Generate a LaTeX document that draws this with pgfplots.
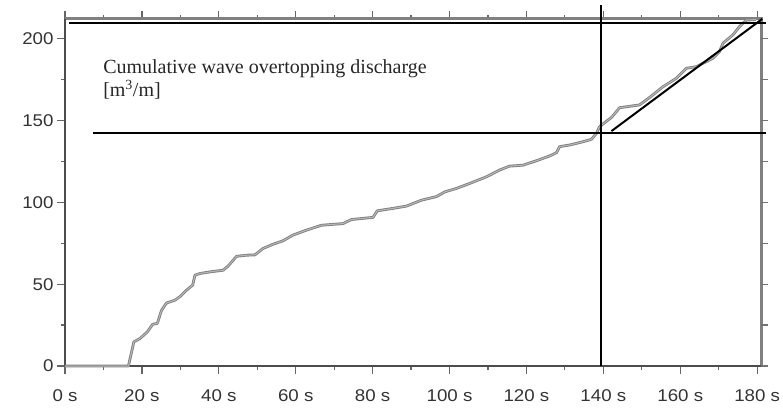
\documentclass[border=0pt]{standalone}
\usepackage{pgfplots}
\pgfplotsset{compat=1.18}
\usepackage{pgfplotstable}
\usepackage{fontspec}
\setmainfont{Liberation Sans}[FakeStretch=1.1]
\newfontfamily\serifann{Liberation Serif}

\pgfplotstableread{
t v
0 0
16.5 0
17.9 14.7
19.5 16.8
21.4 20.8
22.8 25.5
24 26
25.1 34
26.4 38.5
28.6 40.2
30 42.6
31.6 46.3
33.2 49.4
33.8 55.5
35.1 56.5
37.7 57.5
41.1 58.5
42.4 61
44.6 67
47.2 67.7
49.4 67.9
51.5 71.8
54.1 74.4
56.7 76.5
59.3 80
62.8 83
66.7 86
72.3 87
74.5 89.5
80.1 90.8
81.2 94.8
85.3 96.3
88.8 97.7
92.7 101.3
96.6 103.5
98.8 106.4
101.8 108.5
105.2 111.5
109.6 115.6
113 119.7
115.6 122.1
119.1 122.7
122.6 125.4
126 128.3
127.8 130.3
128.6 134
131.2 135
134.7 137
136.9 138.5
138.2 142.1
139 146.2
140.8 149.5
142.1 151.8
143.4 155.4
144.2 157.8
149.4 159.5
152 164
155.5 170.6
159 175.8
161.6 181.9
164.2 182.9
168.5 188
170.2 192
171.1 197.2
173.7 202.3
175.4 207.3
177.2 211.4
179.7 211.6
}\cumdata

\begin{document}
\begin{tikzpicture}
\begin{axis}[
  name=main,
  scale only axis,
  width=696bp, height=347bp,
  xmin=0, xmax=181, ymin=0, ymax=212,
  clip=false,
  axis line style={draw=none},
  tick style={black!60, line width=1.2bp},
  tick align=outside,
  major tick length=8bp,
  minor tick length=4bp,
  xtick={0,20,...,180},
  xticklabels={0 s,20 s,40 s,60 s,80 s,100 s,120 s,140 s,160 s,180 s},
  minor xtick={10,30,...,170},
  xtick pos=both,
  ytick={0,50,...,200},
  yticklabels={0,50,100,150,200},
  minor ytick={25,75,...,175},
  ytick pos=left,
  tick label style={font=\fontsize{17bp}{20bp}\selectfont, text=black!80},
  xticklabel style={yshift=-12bp},
]
\draw[draw=black!50, line width=3bp] (rel axis cs:1,0) -- (rel axis cs:1,1) -- (rel axis cs:0,1);
\draw[draw=black!70, line width=2.5bp] (rel axis cs:0,1) -- (rel axis cs:0,0) -- (rel axis cs:1,0);
\addplot[black!50, line width=2.8bp, line join=round] table[x=t,y=v] {\cumdata};
\addplot[black!28, line width=1bp, line join=round] table[x=t,y=v] {\cumdata};
\addplot[black, line width=2bp] coordinates {(1,209.4) (182.3,209.4)};
\addplot[black, line width=2bp] coordinates {(7.4,142.1) (182.3,142.1)};
\addplot[black, line width=2bp] coordinates {(139.5,0) (139.5,220.6)};
\addplot[black, line width=2bp] coordinates {(142.1,143.5) (181.3,212)};
\node[anchor=base west, inner sep=0pt, font=\serifann\fontsize{20bp}{24bp}\selectfont, text=black!85] at (axis cs:9.9,178.4) {Cumulative wave overtopping discharge};
\node[anchor=base west, inner sep=0pt, font=\serifann\fontsize{20bp}{24bp}\selectfont, text=black!85] at (axis cs:9.9,164.4) {[m\textsuperscript{3}/m]};
\end{axis}
\begin{axis}[
  scale only axis,
  width=696bp, height=347bp,
  xmin=0, xmax=181, ymin=0, ymax=212,
  hide x axis,
  axis y line*=right,
  axis line style={draw=none},
  tick style={black!55, line width=1.2bp},
  tick align=outside,
  major tick length=7bp,
  xtick=\empty,
  ytick={0,25,...,200},
  yticklabels={},
]
\end{axis}
\pgfresetboundingbox
\path ([xshift=-65bp,yshift=-42bp]main.south west) rectangle ([xshift=22bp,yshift=19bp]main.north east);
\end{tikzpicture}
\end{document}
